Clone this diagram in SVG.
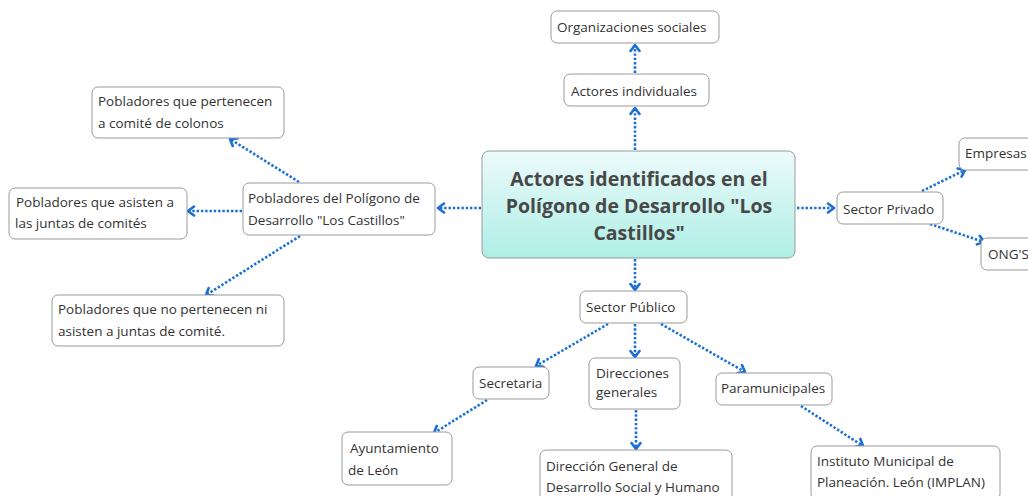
<svg xmlns="http://www.w3.org/2000/svg" width="1028" height="496" viewBox="0 0 1028 496">
<defs>
<linearGradient id="cg" x1="0" y1="0" x2="0" y2="1">
<stop offset="0" stop-color="#ecfbfa"/>
<stop offset="1" stop-color="#aeeee6"/>
</linearGradient>
<marker id="arr" viewBox="0 0 12 12" refX="9" refY="6" markerWidth="12" markerHeight="12" markerUnits="userSpaceOnUse" orient="auto">
<path d="M3,1.5 L9,6 L3,10.5" fill="none" stroke="#1a6fd6" stroke-width="2.6" stroke-linecap="round" stroke-linejoin="round"/>
</marker>
<style>
.n{fill:#fff;stroke:#9a9a9a;stroke-width:1}
.t{font-family:"Open Sans","Noto Sans",sans-serif;font-size:13.5px;fill:#333}
.c{font-family:"Open Sans","Noto Sans",sans-serif;font-size:19.5px;font-weight:bold;fill:#484848;text-anchor:middle}
.l{fill:none;stroke:#1a6fd6;stroke-width:2.6;stroke-dasharray:2.4 1.9;marker-end:url(#arr)}
</style>
</defs>
<rect width="1028" height="496" fill="#fff"/>
<g id="connectors">
<line class="l" x1="635" y1="150" x2="635" y2="108"/>
<line class="l" x1="635" y1="73" x2="635" y2="45"/>
<line class="l" x1="797" y1="208" x2="834" y2="208"/>
<line class="l" x1="922" y1="191" x2="965" y2="170"/>
<line class="l" x1="930" y1="224" x2="984" y2="242"/>
<line class="l" x1="481" y1="208" x2="438" y2="208"/>
<line class="l" x1="299" y1="182" x2="230" y2="139"/>
<line class="l" x1="242" y1="211" x2="188" y2="211"/>
<line class="l" x1="300" y1="236" x2="206" y2="295"/>
<line class="l" x1="635" y1="259" x2="635" y2="290"/>
<line class="l" x1="608" y1="324" x2="536" y2="366"/>
<line class="l" x1="635" y1="324" x2="635" y2="357"/>
<line class="l" x1="661" y1="324" x2="745" y2="372"/>
<line class="l" x1="487" y1="400" x2="434" y2="433"/>
<line class="l" x1="636" y1="410" x2="636" y2="449"/>
<line class="l" x1="801" y1="406" x2="863" y2="446"/>
</g>
<g id="central">
<rect x="482" y="151" width="313" height="107" rx="7" fill="url(#cg)" stroke="#9a9a9a"/>
<text class="c" x="639" y="186">Actores identificados en el</text>
<text class="c" x="639" y="213">Polígono de Desarrollo "Los</text>
<text class="c" x="639" y="240">Castillos"</text>
</g>
<g id="org-sociales">
<rect class="n" x="551" y="11" width="168" height="32" rx="6"/>
<text class="t" x="557" y="32">Organizaciones sociales</text>
</g>
<g id="actores-individuales">
<rect class="n" x="564" y="74" width="145" height="32" rx="6"/>
<text class="t" x="571" y="96">Actores individuales</text>
</g>
<g id="sector-privado">
<rect class="n" x="837" y="192" width="106" height="32" rx="6"/>
<text class="t" x="843" y="214">Sector Privado</text>
</g>
<g id="empresas">
<rect class="n" x="959" y="138" width="80" height="32" rx="6"/>
<text class="t" x="965" y="158">Empresas</text>
</g>
<g id="ongs">
<rect class="n" x="981" y="238" width="60" height="32" rx="6"/>
<text class="t" x="988" y="259">ONG'S</text>
</g>
<g id="pobladores">
<rect class="n" x="243" y="183" width="192" height="52" rx="6"/>
<text class="t" x="248" y="203">Pobladores del Polígono de</text>
<text class="t" x="248" y="225">Desarrollo "Los Castillos"</text>
</g>
<g id="pobladores-pertenecen">
<rect class="n" x="92" y="87" width="192" height="51" rx="6"/>
<text class="t" x="98" y="106">Pobladores que pertenecen</text>
<text class="t" x="98" y="128">a comité de colonos</text>
</g>
<g id="pobladores-asisten">
<rect class="n" x="9" y="188" width="178" height="51" rx="6"/>
<text class="t" x="16" y="207">Pobladores que asisten a</text>
<text class="t" x="15" y="228">las juntas de comités</text>
</g>
<g id="pobladores-no">
<rect class="n" x="52" y="295" width="232" height="51" rx="6"/>
<text class="t" x="58" y="314">Pobladores que no pertenecen ni</text>
<text class="t" x="58" y="336">asisten a juntas de comité.</text>
</g>
<g id="sector-publico">
<rect class="n" x="580" y="291" width="107" height="32" rx="6"/>
<text class="t" x="586" y="312">Sector Público</text>
</g>
<g id="secretaria">
<rect class="n" x="473" y="367" width="76" height="32" rx="6"/>
<text class="t" x="479" y="388">Secretaria</text>
</g>
<g id="direcciones">
<rect class="n" x="589" y="358" width="91" height="51" rx="6"/>
<text class="t" x="596" y="378">Direcciones</text>
<text class="t" x="596" y="397">generales</text>
</g>
<g id="paramunicipales">
<rect class="n" x="716" y="373" width="116" height="32" rx="6"/>
<text class="t" x="721" y="393">Paramunicipales</text>
</g>
<g id="ayuntamiento">
<rect class="n" x="342" y="432" width="110" height="53" rx="6"/>
<text class="t" x="350" y="453">Ayuntamiento</text>
<text class="t" x="348" y="475">de León</text>
</g>
<g id="direccion-general">
<rect class="n" x="540" y="450" width="192" height="52" rx="6"/>
<text class="t" x="546" y="471">Dirección General de</text>
<text class="t" x="546" y="492">Desarrollo Social y Humano</text>
</g>
<g id="implan">
<rect class="n" x="811" y="446" width="189" height="54" rx="6"/>
<text class="t" x="817" y="466">Instituto Municipal de</text>
<text class="t" x="817" y="487">Planeación. León (IMPLAN)</text>
</g>
</svg>
